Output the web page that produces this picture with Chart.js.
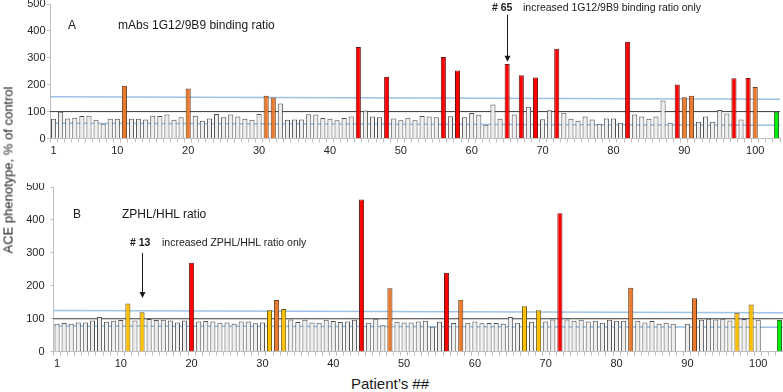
<!DOCTYPE html>
<html><head><meta charset="utf-8">
<script src="https://cdn.jsdelivr.net/npm/chart.js@4.4.1/dist/chart.umd.min.js"></script>
<style>
html,body{margin:0;padding:0;background:#fff;}
#wrap{position:relative;width:783px;height:392px;overflow:hidden;font-family:"Liberation Sans",Arial,sans-serif;}
canvas{position:absolute;left:0;}
.t{position:absolute;white-space:nowrap;color:#1a1a1a;line-height:1;transform:translateY(-50%);}
.b{font-weight:bold;}
</style></head><body>
<div id="wrap">
<canvas id="cA" width="783" height="160" style="top:0"></canvas>
<canvas id="cB" width="783" height="190" style="top:183px"></canvas>
<div class="t" style="left:68px;top:25px;font-size:12px">A</div>
<div class="t" style="left:118px;top:25px;font-size:12px">mAbs 1G12/9B9 binding ratio</div>
<div class="t b" style="left:492px;top:7px;font-size:10.5px"># 65</div>
<div class="t" style="left:523px;top:7px;font-size:10.5px">increased 1G12/9B9 binding ratio only</div>
<div class="t" style="left:73px;top:214px;font-size:12px">B</div>
<div class="t" style="left:122px;top:214px;font-size:12px">ZPHL/HHL ratio</div>
<div class="t b" style="left:130px;top:242px;font-size:10.5px"># 13</div>
<div class="t" style="left:162px;top:242px;font-size:10.5px">increased ZPHL/HHL ratio only</div>
<div class="t" style="left:8px;top:170px;font-size:13px;transform:translate(-50%,-50%) rotate(-90deg)">ACE phenotype, % of control</div>
<div class="t" style="left:390px;top:383px;font-size:15px;transform:translate(-50%,-50%)">Patient’s ##</div>
</div>
<script>
// ---- categories ----
const patients = [];
for (let i = 1; i <= 103; i++) patients.push(String(i));
const xTickLabels = ['1','10','20','30','40','50','60','70','80','90','100'];
const yTickValues = [0,100,200,300,400,500];

// ---- panel A: mAbs 1G12/9B9 binding ratio (% of control) ----
const ratioA = [73,99,74,77,84,85,70,55,73,73,
  196,73,73,71,85,84,89,70,79,186,
  85,66,74,91,79,89,82,73,70,91,
  159,152,130,70,71,71,90,89,76,73,
  68,76,82,340,104,82,79,230,74,68,
  77,68,84,82,79,303,83,253,79,95,
  88,51,126,73,277,89,235,118,227,72,
  105,334,96,73,66,82,71,55,74,74,
  59,360,89,82,73,82,141,59,201,153,
  159,62,82,62,106,93,224,71,225,191,
  null,null,99];
const redA = [44,48,56,58,65,67,69,72,82,89,97,99];
const orangeA = [11,20,31,32,90,91,100];
const yellowA = [];
const upperBandA = [155,146];
const lowerBandA = [57,49];
const arrowA = {patient:'65', from:460, to:285};

// ---- panel B: ZPHL/HHL ratio (% of control) ----
const ratioB = [85,87,85,89,89,95,105,91,94,96,
  146,95,120,99,96,97,95,89,95,270,
  92,93,92,88,89,85,92,92,86,89,
  126,157,130,98,90,97,89,88,97,93,
  90,92,97,462,88,100,80,193,91,89,
  89,92,94,76,91,240,87,158,88,92,
  86,87,87,85,105,88,138,91,126,92,
  98,420,98,94,97,92,94,88,97,94,
  94,194,94,89,93,85,88,85,null,85,
  162,97,100,98,100,95,118,99,143,97,
  null,null,96];
const redB = [20,44,56,72];
const orangeB = [32,48,58,82,91];
const yellowB = [11,13,31,33,67,69,97,99];
const upperBandB = [125,118];
const lowerBandB = [78,74];
const arrowB = {patient:'13', from:300, to:163};

const controlPatients = [103];
const controlLevel = 100;

Chart.defaults.font.family = '"Liberation Sans", Arial, sans-serif';

function colorsFor(red, orange, yellow) {
  const bg = [], bd = [];
  patients.forEach(p => {
    const n = +p;
    if (controlPatients.includes(n)) { bg.push('#00ee00'); bd.push('#2f6f2f'); }
    else if (red.includes(n)) { bg.push('#ff0000'); bd.push('#6a1010'); }
    else if (orange.includes(n)) { bg.push('#ea7a2e'); bd.push('#6b3a18'); }
    else if (yellow.includes(n)) { bg.push('#ffc000'); bd.push('#6b5410'); }
    else { bg.push('#eeeeee'); bd.push('#505050'); }
  });
  return {bg, bd};
}

const guides = {
  id: 'guides',
  beforeDatasetsDraw(chart, args, o) {
    const {ctx, chartArea:{left, right}, scales:{y}} = chart;
    ctx.save();
    o.lines.forEach(l => {
      ctx.strokeStyle = l.color; ctx.lineWidth = l.width;
      ctx.beginPath();
      ctx.moveTo(left, y.getPixelForValue(l.values[0]));
      ctx.lineTo(right, y.getPixelForValue(l.values[1]));
      ctx.stroke();
    });
    ctx.restore();
  },
  afterDatasetsDraw(chart, args, o) {
    const {ctx, scales:{x, y}} = chart;
    const a = o.arrow;
    const px = Math.round(x.getPixelForValue(patients.indexOf(a.patient))) + 0.5;
    const y1 = y.getPixelForValue(a.from), y2 = y.getPixelForValue(a.to);
    ctx.save();
    ctx.strokeStyle = '#1a1a1a'; ctx.fillStyle = '#1a1a1a'; ctx.lineWidth = 1;
    ctx.beginPath(); ctx.moveTo(px, y1); ctx.lineTo(px, y2 - 5); ctx.stroke();
    ctx.beginPath(); ctx.moveTo(px - 3, y2 - 6); ctx.lineTo(px + 3, y2 - 6); ctx.lineTo(px, y2); ctx.closePath(); ctx.fill();
    ctx.restore();
  }
};

function makeChart(id, values, cols, upper, lower, arrow, yW, xH, padR, tickPad) {
  return new Chart(document.getElementById(id), {
    type: 'bar',
    data: {
      labels: patients,
      datasets: [{
        data: values,
        backgroundColor: cols.bg,
        borderColor: cols.bd,
        borderWidth: 1,
        barPercentage: 0.72,
        categoryPercentage: 1.0
      }]
    },
    options: {
      responsive: false,
      animation: false,
      layout: {padding: {top: 4, right: padR, left: 0, bottom: 0}},
      plugins: {
        legend: {display: false},
        tooltip: {enabled: false},
        guides: {
          lines: [
            {values: upper, color: '#9cc2e5', width: 1.5},
            {values: lower, color: '#9cc2e5', width: 1.5},
            {values: [controlLevel, controlLevel], color: '#3a3a3a', width: 1}
          ],
          arrow: arrow
        }
      },
      scales: {
        x: {
          offset: true,
          grid: {drawOnChartArea: false, drawTicks: true, tickLength: 4, color: '#c0c0c0', offset: true},
          border: {color: '#bfbfbf'},
          ticks: {
            autoSkip: false, maxRotation: 0, padding: 2,
            color: '#262626', font: {size: 11},
            callback: (v, i) => xTickLabels.includes(patients[i]) ? patients[i] : ''
          },
          afterFit(s) { s.height = xH; s.paddingLeft = 0; s.paddingRight = 0; }
        },
        y: {
          min: 0, max: 500,
          afterBuildTicks(s) { s.ticks = yTickValues.map(v => ({value: v})); },
          grid: {drawOnChartArea: false, drawTicks: true, tickLength: 3, color: '#c0c0c0'},
          border: {color: '#bfbfbf'},
          ticks: {padding: tickPad, color: '#262626', font: {size: 11}},
          afterFit(s) { s.width = yW; s.paddingTop = 0; s.paddingBottom = 0; }
        }
      }
    },
    plugins: [guides]
  });
}

makeChart('cA', ratioA, colorsFor(redA, orangeA, yellowA), upperBandA, lowerBandA, arrowA, 50, 21.5, 3, 1.5);
makeChart('cB', ratioB, colorsFor(redB, orangeB, yellowB), upperBandB, lowerBandB, arrowB, 53.5, 21.3, 0, 6);
</script>
</body></html>
